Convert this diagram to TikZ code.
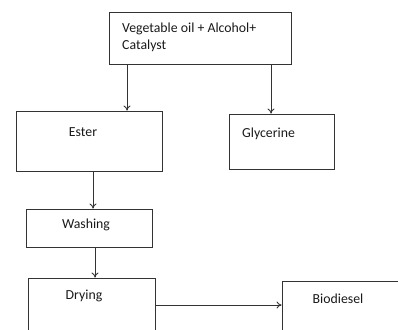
\documentclass[tikz,border=0pt]{standalone}
\usepackage{fontspec}
\setmainfont{Carlito}
\usepackage{tikz}
\usetikzlibrary{
  positioning,
  calc,
  arrows.meta
}

\begin{document}
\begin{tikzpicture}[x=1pt,y=-1pt,
  box/.style={draw=black!80,line width=0.9pt,rectangle,inner sep=0pt},
  txt/.style={inner sep=0pt,font=\fontsize{13.8}{17}\selectfont,text=black!90},
  arr/.style={draw=black!80,line width=0.9pt,-{To[length=5pt,width=7pt]}}]
  % 外枠
  \clip (0,0) rectangle (398,329);
  \useasboundingbox (0,0) rectangle (398,329);

  % 箱
  \node[box,minimum width=182pt,minimum height=52pt] (feed) at (200,38) {};
  \node[box,minimum width=146pt,minimum height=60pt] (ester) at (89,141) {};
  \node[box,minimum width=105pt,minimum height=55pt] (gly) at (281.5,141.5) {};
  \node[box,minimum width=126pt,minimum height=38pt] (wash) at (89,228) {};
  \node[box,minimum width=127pt,minimum height=82pt] (dry) at (91.5,319) {};
  \node[box,minimum width=148pt,minimum height=79pt] (bio) at (356,320.5) {};

  % 文字
  \node[txt,anchor=north west,align=left] (feedtxt) at (122,23) {Vegetable oil + Alcohol+\\Catalyst};
  \node[txt] (estertxt) at (83,132) {Ester};
  \node[txt,anchor=west] (glytxt) at (242,134) {Glycerine};
  \node[txt] (washtxt) at (86,225) {Washing};
  \node[txt] (drytxt) at (84,296) {Drying};
  \node[txt] (biotxt) at (338,299) {Biodiesel};

  % 矢印
  \draw[arr] (feed.south -| 127,0) -- (ester.north -| 127,0);
  \draw[arr] (feed.south -| 271,0) -- (gly.north -| 271,0);
  \draw[arr] (ester.south -| 93,0) -- (wash.north -| 93,0);
  \draw[arr] (wash.south -| 95,0) -- (dry.north -| 95,0);
  \draw[arr] (dry.east |- 0,305) -- (bio.west |- 0,305);
\end{tikzpicture}
\end{document}
